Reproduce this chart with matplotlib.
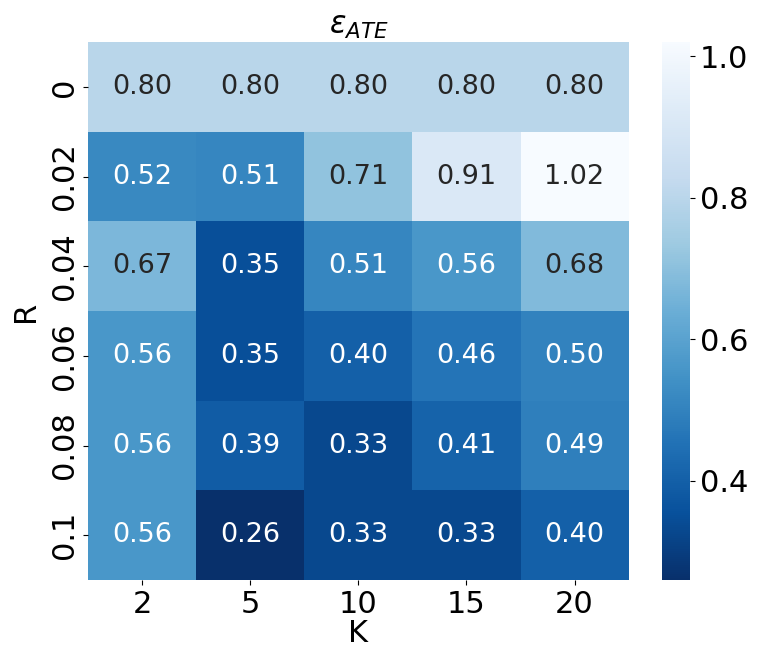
import numpy as np
import pandas as pd
import matplotlib
matplotlib.use("Agg")
import matplotlib.pyplot as plt
import seaborn as sns

k_values = [2, 5, 10, 15, 20]
r_values = ["0", "0.02", "0.04", "0.06", "0.08", "0.1"]

row_r0 = [0.80, 0.80, 0.80, 0.80, 0.80]
row_r002 = [0.52, 0.51, 0.71, 0.91, 1.02]
row_r004 = [0.67, 0.35, 0.51, 0.56, 0.68]
row_r006 = [0.56, 0.35, 0.40, 0.46, 0.50]
row_r008 = [0.56, 0.39, 0.33, 0.41, 0.49]
row_r01 = [0.56, 0.26, 0.33, 0.33, 0.40]

df = pd.DataFrame([row_r0, row_r002, row_r004, row_r006, row_r008, row_r01],
                  index=r_values, columns=k_values)

fig = plt.figure(figsize=(7.61, 6.69), dpi=100)
ax = fig.add_axes([0.116, 0.133, 0.71, 0.804])
cax = fig.add_axes([0.870, 0.133, 0.037, 0.804])

sns.heatmap(df, annot=True, fmt=".2f", cmap="Blues_r", ax=ax, cbar_ax=cax,
            annot_kws={"size": 19.5})

ax.set_title(r"$\epsilon_{ATE}$", fontsize=22)
ax.set_xlabel("K", fontsize=22, labelpad=0)
ax.set_ylabel("R", fontsize=22, labelpad=7)
ax.tick_params(axis="both", labelsize=22)
ax.set_yticklabels(r_values, rotation=90, va="center")
cax.tick_params(labelsize=22)
cax.set_yticks([0.4, 0.6, 0.8, 1.0])

plt.savefig("out.png", dpi=100)
